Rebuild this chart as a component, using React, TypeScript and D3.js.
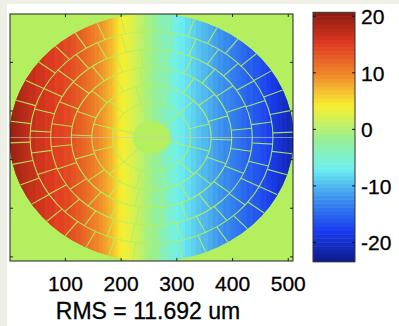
import React from "react";
import * as d3 from "d3";

// Surface profile (value in um) read across the aperture, x in image pixels
const profileX = [0, 4, 36, 72, 108, 135, 162, 183, 197, 215, 233, 251, 269, 287, 305, 323, 341, 359, 377, 395, 422, 458, 485, 508];
const profileV = [20, 19.5, 17, 15.5, 14, 12, 9.5, 7, 4.5, 3, 1, -1, -3, -5, -7, -8, -9.5, -10.5, -12, -13, -15, -17, -19.5, -21.5];

// Segmented aperture: ring boundaries (image pixels) and segments per ring
const ringRadii = [33, 70, 107, 144, 181, 218, 255];
const segmentsPerRing = [6, 12, 18, 24, 30, 36];
const ringOffsets = [0.25, 0.5, 0.1, 0.6, 0.3, 0.75];

const xTicks = [100, 200, 300, 400, 500];
const yTicks = [100, 200, 300, 400, 500];
const cbarTicks = [20, 10, 0, -10, -20];
const cbarDomain = [-23.4, 20.7];
const xLabel = "RMS = 11.692 um";

const jetStops = [0, 0.125, 0.25, 0.375, 0.5, 0.625, 0.75, 0.875, 1];
const jetColors = ["#0e1a8a", "#1a3cf0", "#3a8ef0", "#6ef0f0", "#9cf08e", "#f8f030", "#f08a2a", "#e03a22", "#8a1a10"];

const BG = "#b3ef5f";
const FONT = "'Liberation Sans', Arial, Helvetica, sans-serif";

export default function App() {
  const W = 399, H = 326;
  const L = 10, R = 293, T = 14, B = 261;
  const x = d3.scaleLinear().domain([0.5, 508.5]).range([L, R]);
  const y = d3.scaleLinear().domain([0.5, 508.5]).range([T, B]);
  const jet = d3.scaleLinear<string>().domain(jetStops).range(jetColors).interpolate(d3.interpolateRgb);
  const nLevels = 64;
  const valueAt = d3.scaleLinear().domain(profileX).range(profileV).clamp(true);
  const colorOf = (v: number) => {
    const t = (v - cbarDomain[0]) / (cbarDomain[1] - cbarDomain[0]);
    const idx = Math.max(0, Math.min(nLevels - 1, Math.floor(t * nLevels)));
    return jet((idx + 0.5) / nLevels);
  };

  const cx = 254.5, cy = 254.5;
  const kx = Math.abs(x(1) - x(0)), ky = Math.abs(y(1) - y(0));

  const cbL = 313, cbR = 355, cbT = 12.3, cbB = 261.7;
  const cy2 = d3.scaleLinear().domain(cbarDomain).range([cbB, cbT]);

  const columns = d3.range(0, 508).map((i) => (
    <rect key={i} x={x(i + 0.5)} y={T} width={kx + 0.6} height={B - T} fill={colorOf(valueAt(i + 1))} />
  ));

  const spokes: JSX.Element[] = [];
  segmentsPerRing.forEach((n, k) => {
    const r0 = ringRadii[k], r1 = ringRadii[k + 1];
    for (let j = 0; j < n; j++) {
      const a = ((j + ringOffsets[k]) / n) * Math.PI * 2;
      spokes.push(
        <line key={`s${k}-${j}`}
          x1={x(cx + r0 * Math.cos(a))} y1={y(cy + r0 * Math.sin(a))}
          x2={x(cx + r1 * Math.cos(a))} y2={y(cy + r1 * Math.sin(a))}
          stroke={BG} strokeWidth={1.1} strokeOpacity={0.9} />
      );
    }
  });

  const levels = d3.range(nLevels);
  const lev = (cbarDomain[1] - cbarDomain[0]) / nLevels;
  const txt = { fontFamily: FONT, fill: "#000", stroke: "#000", strokeWidth: 0.3 } as const;

  return (
    <div style={{ position: "fixed", left: 0, top: 0 }}>
      <svg width={W} height={H} style={{ display: "block" }}>
        <rect x={0} y={0} width={W} height={H} fill="#eef0e6" />
        <rect x={7} y={4} width={W - 7} height={H - 4} fill="#ffffff" />
        <defs>
          <clipPath id="axclip"><rect x={L} y={T} width={R - L} height={B - T} /></clipPath>
          <clipPath id="disk">
            <ellipse cx={x(cx)} cy={y(cy)} rx={255 * kx} ry={255 * ky} />
          </clipPath>
        </defs>
        <g clipPath="url(#axclip)">
          <rect x={L} y={T} width={R - L} height={B - T} fill={BG} />
          <g clipPath="url(#disk)">
            {columns}
            {ringRadii.slice(0, -1).map((r, i) => (
              <ellipse key={i} cx={x(cx)} cy={y(cy)} rx={r * kx} ry={r * ky} fill={i === 0 ? BG : "none"} stroke={BG} strokeWidth={1.1} strokeOpacity={0.9} />
            ))}
            {spokes}
          </g>
          <line x1={L} x2={R} y1={y(cy)} y2={y(cy)} stroke="#c8ccb8" strokeOpacity={0.6} strokeWidth={1} />
        </g>
        <rect x={L} y={T} width={R - L} height={B - T} fill="none" stroke="#222" strokeWidth={1} />
        {xTicks.map((t) => (
          <g key={t}>
            <line x1={x(t)} x2={x(t)} y1={B} y2={B - 3} stroke="#222" />
            <line x1={x(t)} x2={x(t)} y1={T} y2={T + 3} stroke="#222" />
            <text x={x(t)} y={290.5} textAnchor="middle" fontSize={21} {...txt}>{t}</text>
          </g>
        ))}
        {yTicks.map((t) => (
          <g key={t}>
            <line x1={L} x2={L + 3} y1={y(t)} y2={y(t)} stroke="#222" />
            <line x1={R} x2={R - 3} y1={y(t)} y2={y(t)} stroke="#222" />
          </g>
        ))}
        <text x={148} y={319} textAnchor="middle" fontSize={23} {...txt}>{xLabel}</text>

        {levels.map((i) => (
          <rect key={i} x={cbL} width={cbR - cbL}
            y={cy2(cbarDomain[0] + (i + 1) * lev)} height={Math.abs(cy2(0) - cy2(lev)) + 0.5}
            fill={jet((i + 0.5) / nLevels)} />
        ))}
        <rect x={cbL} y={cbT} width={cbR - cbL} height={cbB - cbT} fill="none" stroke="#333" strokeWidth={1} />
        {cbarTicks.map((t) => (
          <g key={t}>
            <line x1={cbL} x2={cbL + 3} y1={cy2(t)} y2={cy2(t)} stroke="#111" />
            <line x1={cbR} x2={cbR - 3} y1={cy2(t)} y2={cy2(t)} stroke="#111" />
            <text x={361} y={cy2(t) + 8} fontSize={21} {...txt}>{t}</text>
          </g>
        ))}
      </svg>
    </div>
  );
}
